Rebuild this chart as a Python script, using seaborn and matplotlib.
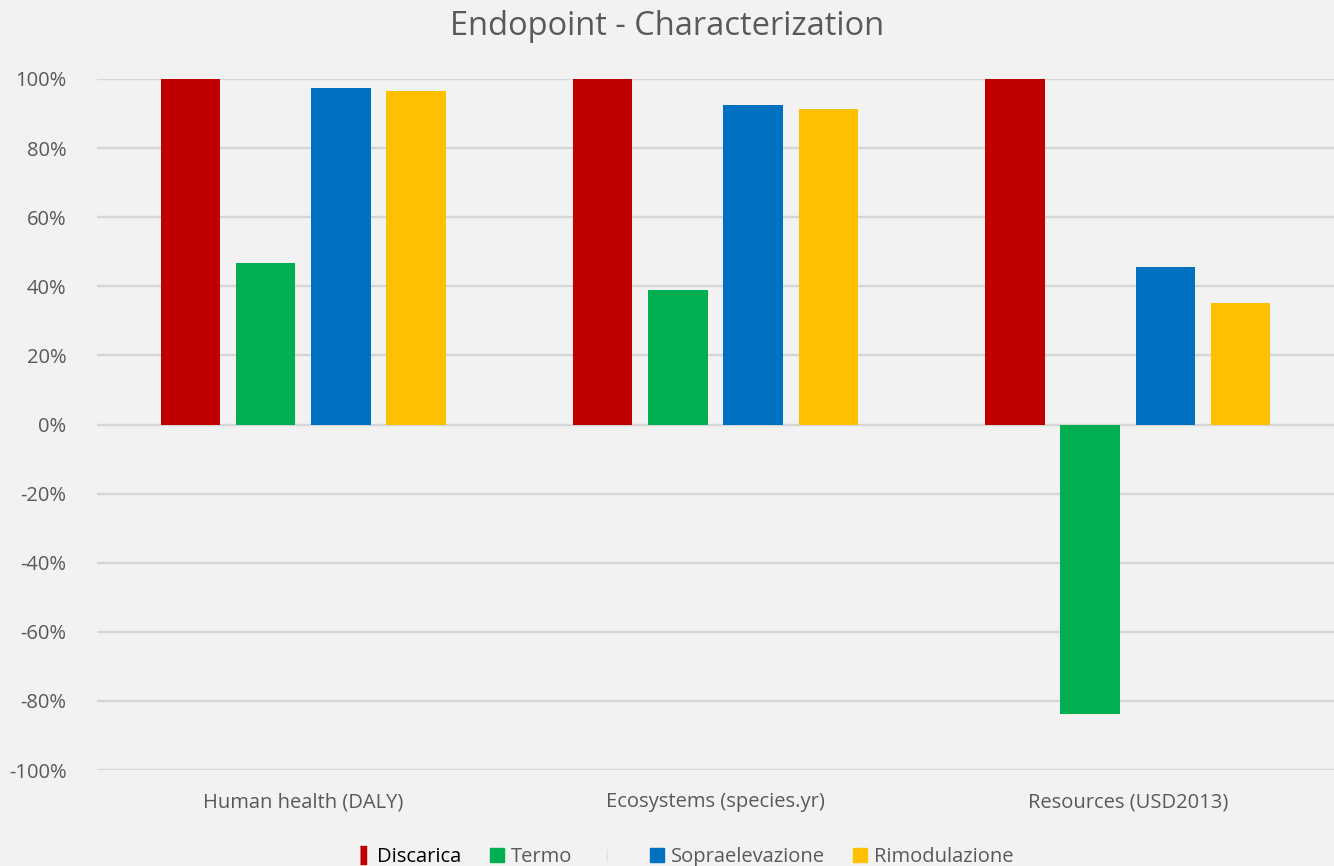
import pandas as pd
import matplotlib.pyplot as plt
import seaborn as sns
from matplotlib.lines import Line2D
from matplotlib.ticker import PercentFormatter

categories = ['Human health (DALY)', 'Ecosystems (species.yr)', 'Resources (USD2013)']
scenarios = ['Discarica', 'Termo', 'Sopraelevazione', 'Rimodulazione']
discarica = [1.000, 1.000, 1.000]
termo = [0.466, 0.388, -0.839]
sopraelevazione = [0.975, 0.926, 0.457]
rimodulazione = [0.964, 0.912, 0.353]
colors = ['#c00000', '#00b050', '#0070c0', '#ffc000']

df = pd.DataFrame({
    'category': categories * 4,
    'scenario': sum([[s] * 3 for s in scenarios], []),
    'value': discarica + termo + sopraelevazione + rimodulazione,
})

sns.set_theme(style="white")
plt.rcParams['font.family'] = ['Open Sans', 'DejaVu Sans']
plt.rcParams['axes.unicode_minus'] = False
bg = '#f2f2f2'
grey = '#595959'

fig = plt.figure(figsize=(13.34, 8.66), dpi=100, facecolor=bg)
ax = fig.add_axes([97 / 1334, 96 / 866, 1237 / 1334, 691 / 866], facecolor=bg)

sns.barplot(data=df, x='category', y='value', hue='scenario', hue_order=scenarios,
            palette=dict(zip(scenarios, colors)), saturation=1, width=0.73, gap=0.21,
            linewidth=0, legend=False, ax=ax, zorder=3)

ax.set_ylim(-1, 1)
ax.set_xlim(-0.5, 2.5)
ax.set_yticks([-1, -0.8, -0.6, -0.4, -0.2, 0, 0.2, 0.4, 0.6, 0.8, 1.0])
ax.yaxis.set_major_formatter(PercentFormatter(1.0, decimals=0))
ax.grid(axis='y', color='#d6d6d6', linewidth=1.7, zorder=0)
ax.set_axisbelow(True)
for s in ax.spines.values():
    s.set_visible(False)
ax.tick_params(axis='y', length=0, pad=22, labelsize=14.5, labelcolor=grey)
ax.tick_params(axis='x', length=0, pad=16, labelsize=14.5, labelcolor=grey)
ax.set_xlabel('')
ax.set_ylabel('')

fig.suptitle('Endopoint - Characterization', y=0.988, fontsize=23.5, color=grey)

narrow = [(-0.3, -1), (0.3, -1), (0.3, 1), (-0.3, 1)]
handles = [
    Line2D([], [], linestyle='none', marker=narrow, markersize=13, color=colors[0]),
    Line2D([], [], linestyle='none', marker='s', markersize=10, color=colors[1]),
    Line2D([], [], linestyle='none', marker='|', markersize=8, color='#e0e0e0'),
    Line2D([], [], linestyle='none', marker='s', markersize=10, color=colors[2]),
    Line2D([], [], linestyle='none', marker='s', markersize=10, color=colors[3]),
]
labels = ['Discarica', 'Termo', '', 'Sopraelevazione', 'Rimodulazione']
leg = fig.legend(handles, labels, loc='lower center', bbox_to_anchor=(0.513, -0.022),
                 ncol=5, frameon=False, fontsize=14.5, handlelength=0.8,
                 handletextpad=0.3, columnspacing=1.35)
for t, lab in zip(leg.get_texts(), labels):
    t.set_color('black' if lab == 'Discarica' else grey)

fig.savefig('out.png', dpi=100, facecolor=bg)
